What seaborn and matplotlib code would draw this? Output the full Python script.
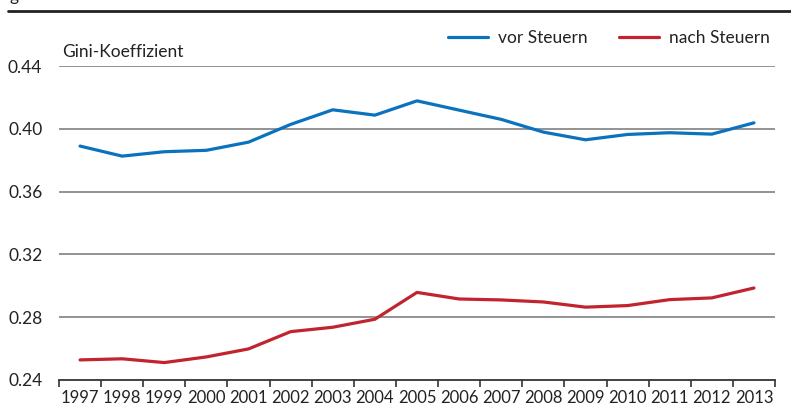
import matplotlib
matplotlib.use("Agg")
import matplotlib.pyplot as plt
import numpy as np
import pandas as pd
import seaborn as sns

years = [str(y) for y in range(1997, 2014)]
vor_steuern = [0.389, 0.3826, 0.3854, 0.3863, 0.3915, 0.4028, 0.4121, 0.4087, 0.4178,
               0.4119, 0.406, 0.3979, 0.393, 0.3964, 0.3975, 0.3966, 0.4038]
nach_steuern = [0.2528, 0.2535, 0.2511, 0.2547, 0.2598, 0.2708, 0.2736, 0.2787, 0.2958,
                0.2916, 0.291, 0.2897, 0.2864, 0.2874, 0.2912, 0.2923, 0.2986]
y_ticks = [0.24, 0.28, 0.32, 0.36, 0.40, 0.44]

blue = "#0b72bd"
red = "#c1242f"
text_color = "#222222"
font_size = 12

sns.set_theme(style="white")
plt.rcParams["font.family"] = ["Lato", "DejaVu Sans"]

df = pd.DataFrame({"pos": np.arange(len(years)), "vor Steuern": vor_steuern,
                   "nach Steuern": nach_steuern})

fig = plt.figure(figsize=(7.91, 4.09), dpi=100)
ax = fig.add_axes([59 / 791, 1 - 380 / 409, (775 - 59) / 791, (380 - 66) / 409])

sns.lineplot(data=df, x="pos", y="vor Steuern", color=blue, linewidth=2.3, ax=ax,
             label="vor Steuern")
sns.lineplot(data=df, x="pos", y="nach Steuern", color=red, linewidth=2.3, ax=ax,
             label="nach Steuern")

ax.set_xlim(-0.5, len(years) - 0.5)
ax.set_ylim(0.24, 0.44)
ax.set_yticks(y_ticks)
ax.set_yticklabels([f"{v:.2f}" for v in y_ticks], fontsize=12.5, color=text_color)
for v in y_ticks[1:]:
    ax.axhline(v, color="#8a8a8a", linewidth=1.3, zorder=0)

ax.set_xticks(np.arange(len(years)))
ax.set_xticklabels(years, fontsize=font_size, color=text_color)
ax.set_xticks(np.arange(len(years) + 1) - 0.5, minor=True)
ax.tick_params(axis="x", which="major", length=0, pad=7)
ax.tick_params(axis="x", which="minor", length=5, width=1.2, color="#333333", direction="out",
               bottom=True)
ax.tick_params(axis="y", length=0, pad=12)
ax.set_xlabel("")
ax.set_ylabel("")

for side in ["top", "right", "left"]:
    ax.spines[side].set_visible(False)
ax.spines["bottom"].set_color("#333333")
ax.spines["bottom"].set_linewidth(1.3)

ax.text(0.005, 1.02, "Gini-Koeffizient", transform=ax.transAxes, fontsize=12.5,
        color=text_color, va="bottom", ha="left")

ax.legend(loc="lower right", bbox_to_anchor=(1.003, 1.04), ncol=2, frameon=False,
          fontsize=12.5, handlelength=2.3, handletextpad=0.6, columnspacing=1.8,
          labelcolor=text_color, borderaxespad=0)

# top rule and clipped heading
fig.add_artist(plt.Line2D([8 / 791, 1.0], [1 - 10.5 / 409, 1 - 10.5 / 409], color="#222222",
                          linewidth=2.0, transform=fig.transFigure))
fig.text(10 / 791, 1 - 1 / 409, "g", fontsize=12.5, color=text_color, va="baseline")

fig.savefig("out.png", dpi=100)
